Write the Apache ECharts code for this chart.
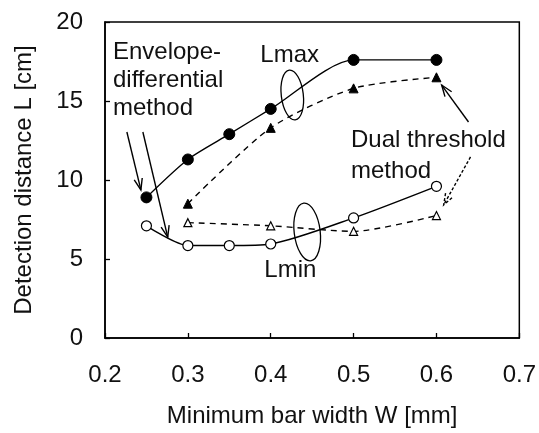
<!DOCTYPE html>
<html><head><meta charset="utf-8">
<script src="https://cdn.jsdelivr.net/npm/echarts@6/dist/echarts.min.js"></script>
<style>html,body{margin:0;padding:0;background:#fff}#c{width:539px;height:433px}</style>
</head><body><div id="c"></div>
<script>
const lmaxEnvX = [0.25, 0.30, 0.35, 0.40, 0.50, 0.60];
const lmaxEnvY = [8.9, 11.3, 12.9, 14.5, 17.6, 17.6];
const lmaxDualX = [0.30, 0.40, 0.50, 0.60];
const lmaxDualY = [8.5, 13.3, 15.8, 16.5];
const lminEnvX = [0.25, 0.30, 0.35, 0.40, 0.50, 0.60];
const lminEnvY = [7.1, 5.85, 5.85, 5.95, 7.6, 9.6];
const lminDualX = [0.30, 0.40, 0.50, 0.60];
const lminDualY = [7.3, 7.1, 6.75, 7.75];
const xTicks = [0.2, 0.3, 0.4, 0.5, 0.6, 0.7];
const yTicks = [0, 5, 10, 15, 20];

const FONT = 'Liberation Sans';
const FS = 24;
const chart = echarts.init(document.getElementById('c'), null, {renderer: 'canvas'});
const pair = (xs, ys) => xs.map((x, i) => [x, ys[i]]);

const base = {type: 'line', smooth: 0.25, lineStyle: {color: '#000', width: 1.4}, z: 3};
chart.setOption({
  animation: false,
  backgroundColor: '#fff',
  grid: {left: 105, top: 22, right: 18, bottom: 95, show: true, borderColor: '#000', borderWidth: 1.5},
  xAxis: {
    type: 'value', min: 0.2, max: 0.7, interval: 0.1,
    name: 'Minimum bar width W [mm]', nameLocation: 'middle', nameGap: 66,
    nameTextStyle: {fontFamily: FONT, fontSize: FS, color: '#111'},
    axisLine: {lineStyle: {color: '#000', width: 1.5}},
    axisTick: {inside: true, length: 5, lineStyle: {color: '#000', width: 1.3}},
    splitLine: {show: false},
    axisLabel: {fontFamily: FONT, fontSize: FS, color: '#111', margin: 25, formatter: v => v.toFixed(1)}
  },
  yAxis: {
    type: 'value', min: 0, max: 20, interval: 5,
    name: 'Detection distance L [cm]', nameLocation: 'middle', nameGap: 69,
    nameTextStyle: {fontFamily: FONT, fontSize: FS, color: '#111'},
    axisLine: {lineStyle: {color: '#000', width: 1.5}},
    axisTick: {inside: true, length: 5, lineStyle: {color: '#000', width: 1.3}},
    splitLine: {show: false},
    axisLabel: {fontFamily: FONT, fontSize: FS, color: '#111', margin: 22}
  },
  series: [
    Object.assign({}, base, {name: 'Lmax env', data: pair(lmaxEnvX, lmaxEnvY), symbol: 'circle', symbolSize: 11,
      itemStyle: {color: '#000', borderColor: '#000'}}),
    Object.assign({}, base, {name: 'Lmax dual', data: pair(lmaxDualX, lmaxDualY), symbol: 'triangle', symbolSize: 9,
      lineStyle: {color: '#000', width: 1.4, type: [6, 5]}, itemStyle: {color: '#000', borderColor: '#000'}}),
    Object.assign({}, base, {name: 'Lmin env', data: pair(lminEnvX, lminEnvY), symbol: 'circle', symbolSize: 10,
      itemStyle: {color: '#fff', borderColor: '#000', borderWidth: 1.2}}),
    Object.assign({}, base, {name: 'Lmin dual', data: pair(lminDualX, lminDualY), symbol: 'triangle', symbolSize: 8,
      lineStyle: {color: '#000', width: 1.4, type: [6, 5]}, itemStyle: {color: '#fff', borderColor: '#000', borderWidth: 1.2}})
  ]
});

// Annotations anchored in data space
const P = (x, y) => chart.convertToPixel({gridIndex: 0}, [x, y]);
function arrow(tail, tip, dashed) {
  const a = P(tail[0], tail[1]), b = P(tip[0], tip[1]);
  const ang = Math.atan2(b[1] - a[1], b[0] - a[0]);
  const L = 12, s = 0.35;
  const h1 = [b[0] - L * Math.cos(ang - s), b[1] - L * Math.sin(ang - s)];
  const h2 = [b[0] - L * Math.cos(ang + s), b[1] - L * Math.sin(ang + s)];
  const style = {stroke: '#000', lineWidth: 1.4, lineDash: dashed ? [3, 2] : null, fill: null};
  return [
    {type: 'line', shape: {x1: a[0], y1: a[1], x2: b[0], y2: b[1]}, style: style, z: 10},
    {type: 'polyline', shape: {points: [h1, b, h2]}, style: style, z: 10}
  ];
}
function label(x, y, text, lh) {
  const p = P(x, y);
  return {type: 'text', x: p[0], y: p[1], z: 10,
    style: {text: text, fontFamily: FONT, fontSize: FS, fill: '#111', lineHeight: lh, verticalAlign: 'top'}};
}
function ellipse(x, y, rx, ry, rot) {
  const p = P(x, y);
  return {type: 'ellipse', x: p[0], y: p[1], rotation: rot, shape: {cx: 0, cy: 0, rx: rx, ry: ry},
    style: {stroke: '#000', lineWidth: 1.3, fill: null}, z: 10};
}
const g = [].concat(
  arrow([0.2264, 13.04], [0.2433, 9.37], false),
  arrow([0.2457, 13.04], [0.2757, 6.39], false),
  arrow([0.6387, 13.67], [0.6063, 16.01], false),
  arrow([0.6411, 11.46], [0.6087, 8.42], true),
  [
    label(0.2096, 18.99, 'Envelope-\ndifferential\nmethod', 28),
    label(0.3875, 18.80, 'Lmax', 28),
    label(0.3923, 5.19, 'Lmin', 28),
    label(0.4969, 13.50, 'Dual threshold\nmethod', 31),
    ellipse(0.426, 15.38, 11, 25, 0.12),
    ellipse(0.444, 6.71, 13, 29, 0.12)
  ]
);
chart.setOption({graphic: g});
</script></body></html>
